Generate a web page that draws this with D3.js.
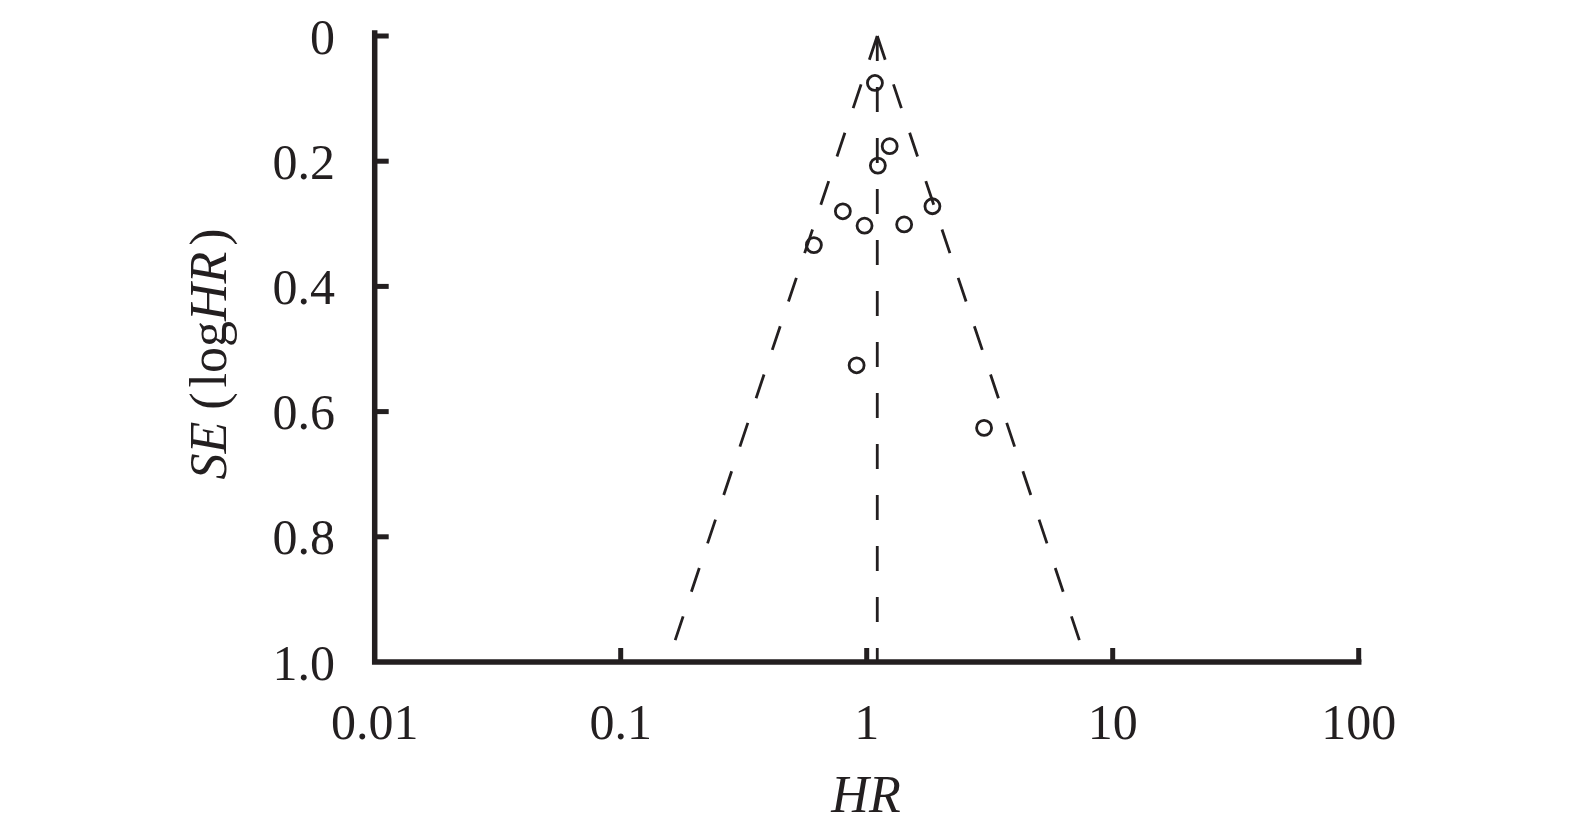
<!DOCTYPE html>
<html>
<head>
<meta charset="utf-8">
<script src="https://cdn.jsdelivr.net/npm/d3@7/dist/d3.min.js"></script>
<style>
  html, body { margin: 0; padding: 0; background: #fff; }
  svg { display: block; }
</style>
</head>
<body>
<svg id="chart" width="1575" height="839"></svg>
<script>
// ---- data ----
const studyHR = [1.08, 1.24, 1.11, 1.85, 0.80, 0.98, 1.42, 0.61, 0.91, 3.00];
const studySE = [0.075, 0.176, 0.207, 0.272, 0.280, 0.303, 0.301, 0.334, 0.526, 0.626];
const pooledHR = 1.104;
const xTickValues = [0.01, 0.1, 1, 10, 100];
const xTickLabels = ["0.01", "0.1", "1", "10", "100"];
const yTickValues = [0, 0.2, 0.4, 0.6, 0.8, 1.0];
const yTickLabels = ["0", "0.2", "0.4", "0.6", "0.8", "1.0"];

// ---- layout ----
const ink = "#231f20";
const font = "'Liberation Serif', 'Times New Roman', serif";
const svg = d3.select("#chart");
const x = d3.scaleLog().domain([0.01, 100]).range([374.7, 1358.7]);
const y = d3.scaleLinear().domain([0, 1]).range([36, 662]);

// funnel (pseudo 95% CI limits)
const seGrid = [0, 1];
const z = 1.96;
const lnP = Math.log(pooledHR);
const leftPts = seGrid.map(s => [x(Math.exp(lnP - z * s)), y(s)]);
const rightPts = seGrid.map(s => [x(Math.exp(lnP + z * s)), y(s)]);
const centerPts = seGrid.map(s => [x(pooledHR), y(s)]);
const line = d3.line();
[leftPts, rightPts, centerPts].forEach(p => {
  svg.append("path")
    .attr("d", line(p))
    .attr("fill", "none")
    .attr("stroke", ink)
    .attr("stroke-width", 2.8)
    .attr("stroke-dasharray", "25,26");
});

// axes
const axisG = svg.append("g");
axisG.append("path")
  .attr("d", `M${x(0.01)},${y(0) - 3}V${y(1)}H${x(100)}`)
  .attr("fill", "none").attr("stroke", ink).attr("stroke-width", 5.5)
  .attr("stroke-linejoin", "miter").attr("stroke-linecap", "square");
// y ticks (inward)
yTickValues.forEach(v => {
  if (v === 1) return;
  axisG.append("line")
    .attr("x1", x(0.01)).attr("x2", x(0.01) + 14)
    .attr("y1", y(v)).attr("y2", y(v))
    .attr("stroke", ink).attr("stroke-width", 5);
});
// x ticks (inward)
xTickValues.forEach(v => {
  if (v === 0.01) return;
  axisG.append("line")
    .attr("x1", x(v)).attr("x2", x(v))
    .attr("y1", y(1)).attr("y2", y(1) - 14)
    .attr("stroke", ink).attr("stroke-width", 5);
});
// y tick labels
yTickValues.forEach((v, i) => {
  svg.append("text")
    .attr("x", 335).attr("y", y(v))
    .attr("dy", "0.35em")
    .attr("text-anchor", "end")
    .attr("font-family", font).attr("font-size", 50)
    .attr("fill", ink)
    .text(yTickLabels[i]);
});
// x tick labels
xTickValues.forEach((v, i) => {
  svg.append("text")
    .attr("x", x(v)).attr("y", 739)
    .attr("text-anchor", "middle")
    .attr("font-family", font).attr("font-size", 50)
    .attr("fill", ink)
    .text(xTickLabels[i]);
});
// x title
svg.append("text")
  .attr("x", 866).attr("y", 812)
  .attr("text-anchor", "middle")
  .attr("font-family", font).attr("font-size", 52)
  .attr("font-style", "italic")
  .attr("fill", ink)
  .text("HR");
// y title
const yt = svg.append("text")
  .attr("transform", "translate(226,354) rotate(-90)")
  .attr("text-anchor", "middle")
  .attr("font-family", font).attr("font-size", 52)
  .attr("fill", ink);
yt.append("tspan").attr("font-style", "italic").text("SE");
yt.append("tspan").attr("dx", 12).text("(");
yt.append("tspan").attr("dx", 5).text("log");
yt.append("tspan").attr("font-style", "italic").text("HR");
yt.append("tspan").attr("dx", 6).text(")");

// points
svg.append("g").selectAll("circle")
  .data(studyHR.map((h, i) => ({ h, s: studySE[i] })))
  .join("circle")
  .attr("cx", d => x(d.h))
  .attr("cy", d => y(d.s))
  .attr("r", 7.5)
  .attr("fill", "none")
  .attr("stroke", ink)
  .attr("stroke-width", 2.8);
</script>
</body>
</html>
